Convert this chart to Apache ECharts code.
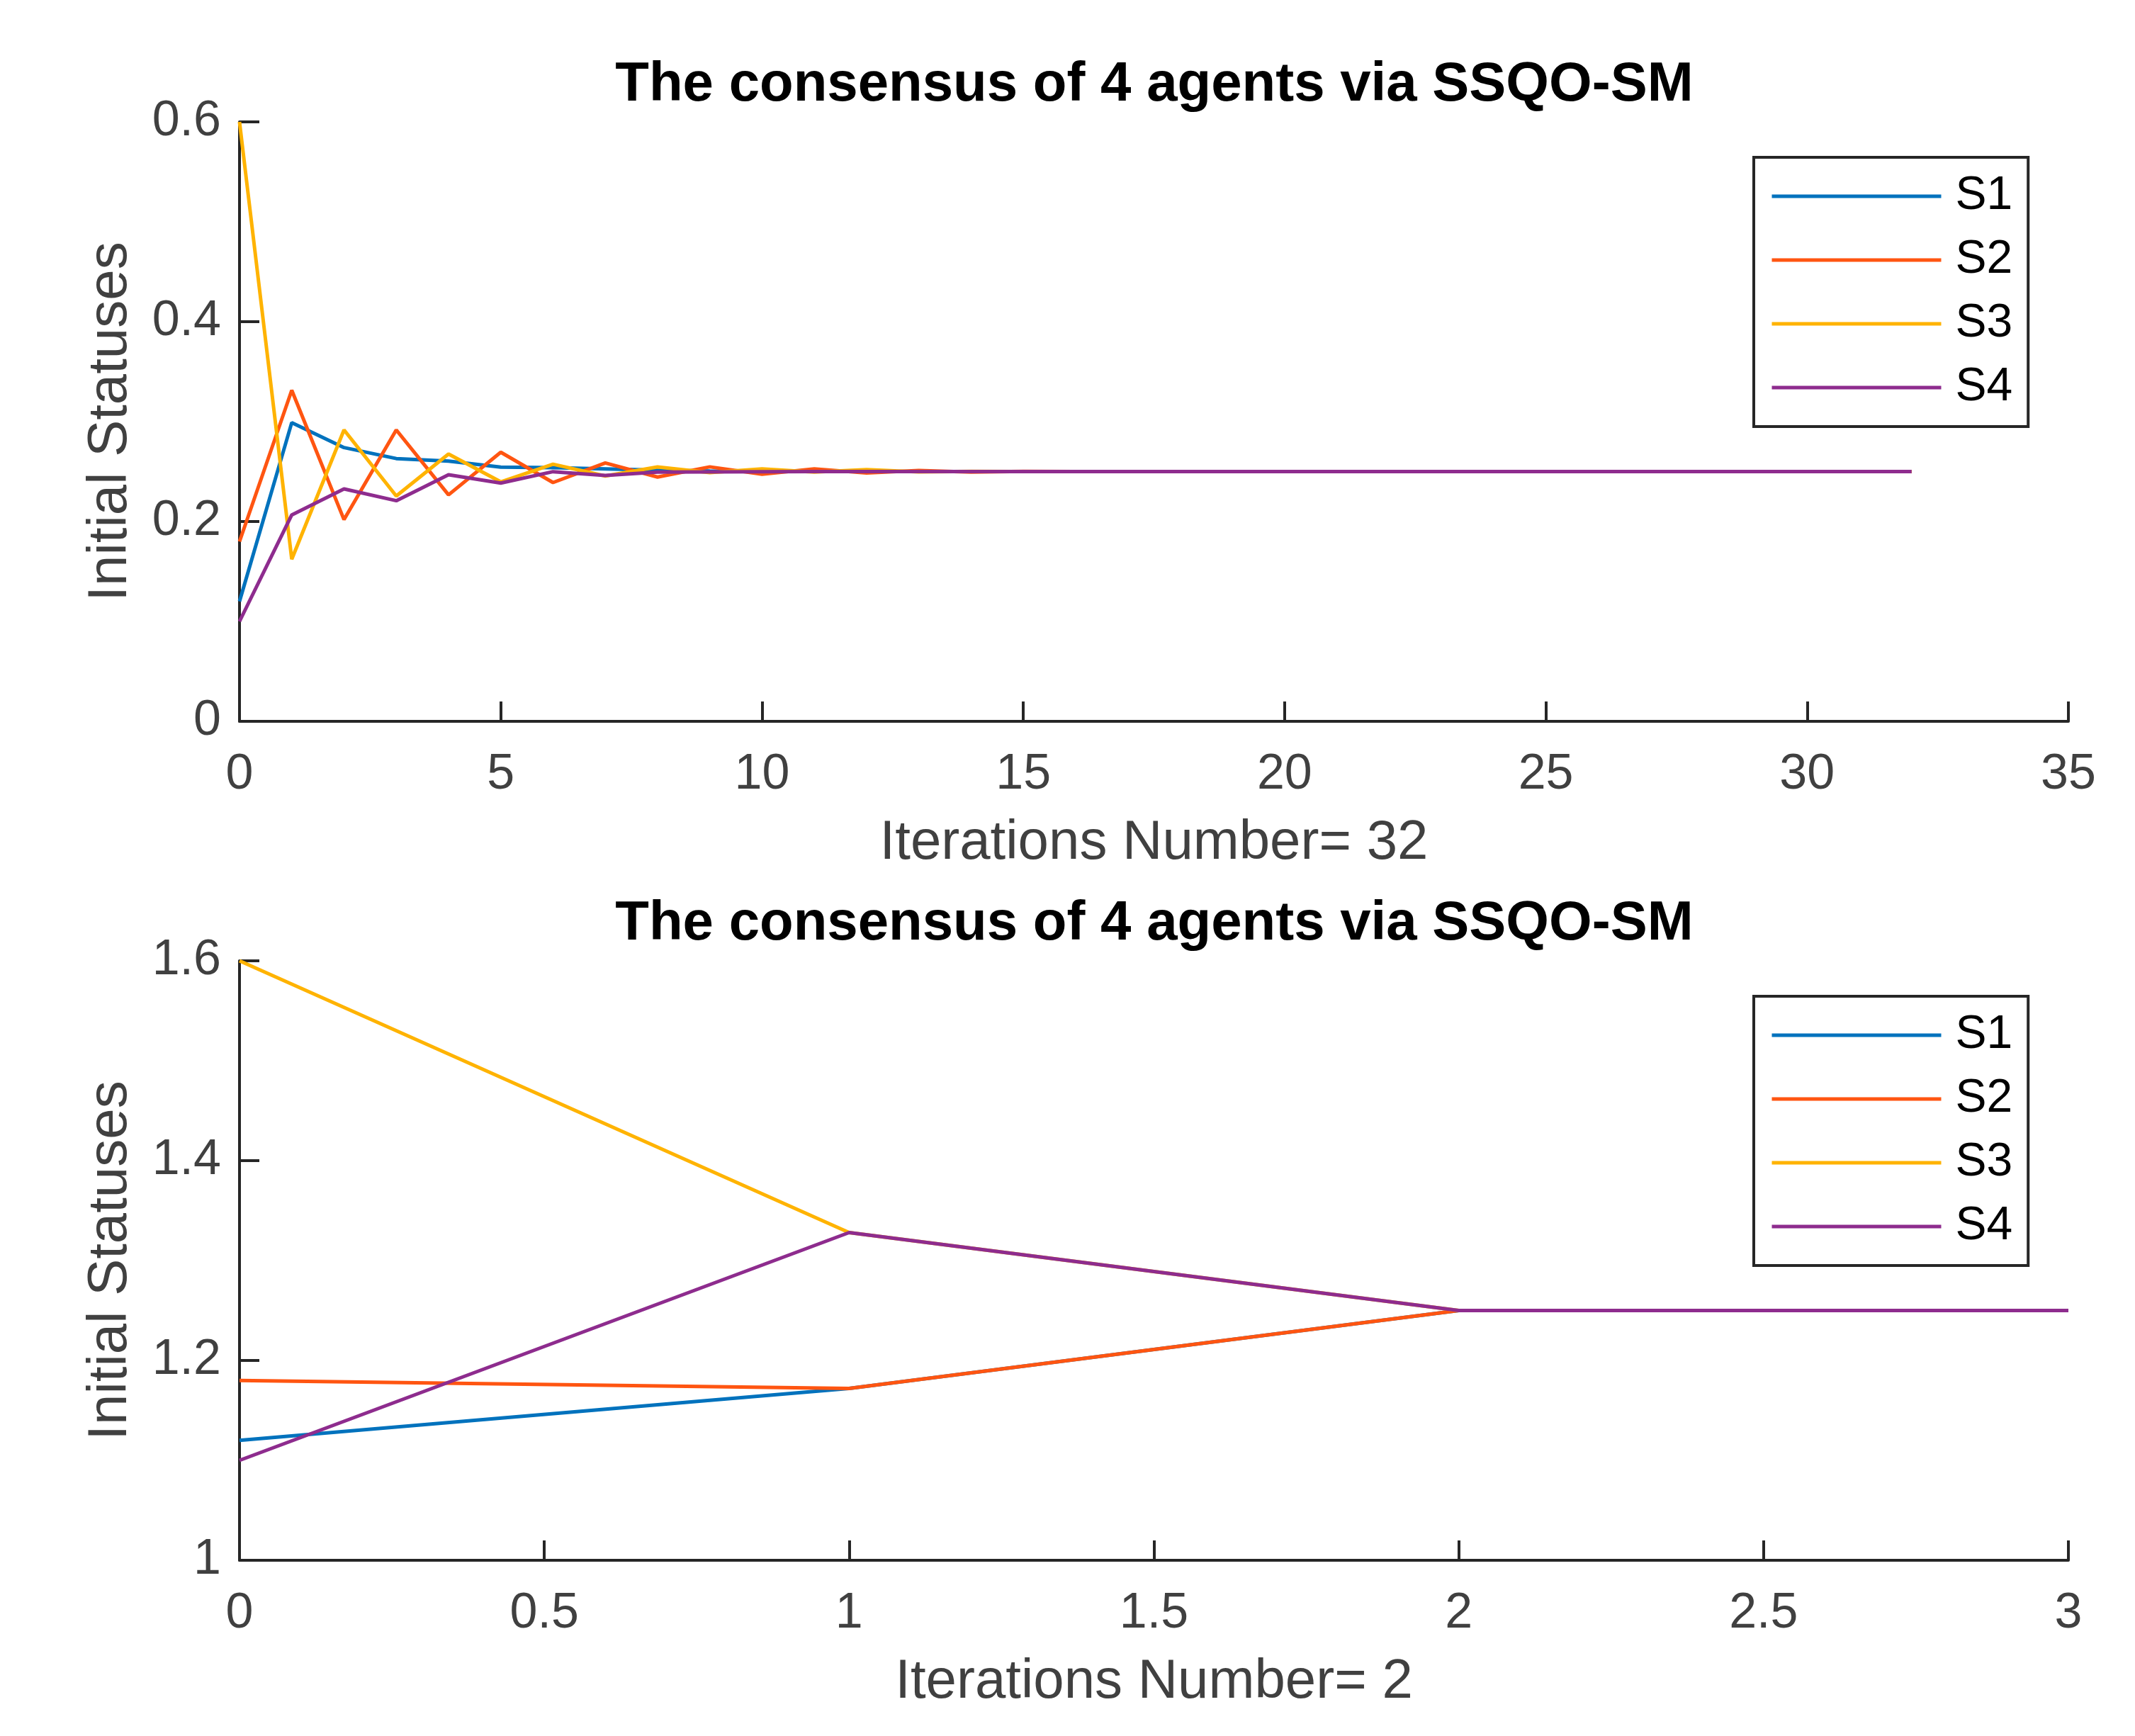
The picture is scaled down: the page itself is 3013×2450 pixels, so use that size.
<!DOCTYPE html>
<html><head><meta charset="utf-8">
<script src="https://cdn.jsdelivr.net/npm/echarts@6/dist/echarts.min.js"></script>
<style>html,body{margin:0;padding:0;background:#fff}#c{width:3013px;height:2450px}</style>
</head><body><div id="c"></div>
<script>
const seriesNames = ['S1', 'S2', 'S3', 'S4'];
const seriesColors = ['#0072BD', '#FF5511', '#FFB300', '#8E2C8E'];
const titleText = 'The consensus of 4 agents via SSQO-SM';
const yName = 'Initial Statuses';
const xNameTop = 'Iterations Number= 32';
const xNameBottom = 'Iterations Number= 2';

// Top panel: iterations 0..32
const iterTop = [0,1,2,3,4,5,6,7,8,9,10,11,12,13,14,15,16,17,18,19,20,21,22,23,24,25,26,27,28,29,30,31,32];
const s1Top = [0.12,0.299,0.274,0.263,0.2605,0.2544,0.2539,0.2527,0.2515,0.2506,0.2502,0.2501,0.25,0.25,0.25,0.25,0.25,0.25,0.25,0.25,0.25,0.25,0.25,0.25,0.25,0.25,0.25,0.25,0.25,0.25,0.25,0.25,0.25];
const s2Top = [0.18,0.3314,0.2019,0.2917,0.2267,0.2693,0.239,0.2586,0.2445,0.2547,0.2473,0.2527,0.2485,0.251,0.2495,0.2502,0.25,0.25,0.25,0.25,0.25,0.25,0.25,0.25,0.25,0.25,0.25,0.25,0.25,0.25,0.25,0.25,0.25];
const s3Top = [0.6,0.1622,0.2917,0.2255,0.2676,0.2397,0.2574,0.2456,0.2546,0.249,0.2527,0.2495,0.252,0.2497,0.2502,0.25,0.25,0.25,0.25,0.25,0.25,0.25,0.25,0.25,0.25,0.25,0.25,0.25,0.25,0.25,0.25,0.25,0.25];
const s4Top = [0.1,0.2066,0.2326,0.2208,0.2468,0.2385,0.2499,0.2461,0.2495,0.2497,0.2499,0.25,0.25,0.25,0.25,0.25,0.25,0.25,0.25,0.25,0.25,0.25,0.25,0.25,0.25,0.25,0.25,0.25,0.25,0.25,0.25,0.25,0.25];

// Bottom panel: iterations 0..3
const iterBottom = [0, 1, 2, 3];
const s1Bottom = [1.12, 1.172, 1.25, 1.25];
const s2Bottom = [1.18, 1.172, 1.25, 1.25];
const s3Bottom = [1.6, 1.328, 1.25, 1.25];
const s4Bottom = [1.1, 1.328, 1.25, 1.25];

const topSets = [s1Top, s2Top, s3Top, s4Top];
const bottomSets = [s1Bottom, s2Bottom, s3Bottom, s4Bottom];

const FONT = 'Liberation Sans';
const AXIS_COLOR = '#262626';
const TEXT_COLOR = '#404040';
const LINE_W = 5;

function makeX(idx, min, max, interval, name) {
  return {
    type: 'value', gridIndex: idx, min: min, max: max, interval: interval,
    name: name, nameLocation: 'middle', nameGap: 172,
    nameTextStyle: { fontSize: 78, color: TEXT_COLOR, fontFamily: FONT, verticalAlign: 'middle' },
    axisLine: { show: true, onZero: false, lineStyle: { color: AXIS_COLOR, width: 4 } },
    axisTick: { show: true, inside: true, length: 28, lineStyle: { color: AXIS_COLOR, width: 4 } },
    axisLabel: { fontSize: 70, color: TEXT_COLOR, fontFamily: FONT, margin: 76, verticalAlign: 'middle', showMinLabel: true, showMaxLabel: true },
    splitLine: { show: false }
  };
}
function makeY(idx, min, max, interval) {
  return {
    type: 'value', gridIndex: idx, min: min, max: max, interval: interval,
    name: yName, nameLocation: 'middle', nameGap: 182,
    nameTextStyle: { fontSize: 78, color: TEXT_COLOR, fontFamily: FONT, verticalAlign: 'middle' },
    axisLine: { show: true, onZero: false, lineStyle: { color: AXIS_COLOR, width: 4 } },
    axisTick: { show: true, inside: true, length: 28, lineStyle: { color: AXIS_COLOR, width: 4 } },
    axisLabel: { fontSize: 70, color: TEXT_COLOR, fontFamily: FONT, margin: 26, verticalAlign: 'middle', showMinLabel: true, showMaxLabel: true },
    splitLine: { show: false }
  };
}
function makeLegend(top) {
  return {
    show: true, orient: 'vertical', left: 2475, top: top,
    padding: [22, 22, 22, 23],
    itemWidth: 239, itemHeight: 20, itemGap: 24,
    borderColor: AXIS_COLOR, borderWidth: 4, backgroundColor: '#ffffff',
    itemStyle: { opacity: 0 },
    lineStyle: { width: LINE_W },
    textStyle: { fontSize: 66, lineHeight: 64, color: '#000000', fontFamily: FONT, padding: [0, 0, 0, 15] },
    data: seriesNames
  };
}

const series = [];
seriesNames.forEach(function (n, i) {
  series.push({
    name: n, type: 'line', xAxisIndex: 0, yAxisIndex: 0, symbol: 'none',
    lineStyle: { width: LINE_W, color: seriesColors[i] }, itemStyle: { color: seriesColors[i] },
    data: iterTop.map(function (x, k) { return [x, topSets[i][k]]; }),
    z: 2 + i
  });
});
seriesNames.forEach(function (n, i) {
  series.push({
    name: n, type: 'line', xAxisIndex: 1, yAxisIndex: 1, symbol: 'none',
    lineStyle: { width: LINE_W, color: seriesColors[i] }, itemStyle: { color: seriesColors[i] },
    data: iterBottom.map(function (x, k) { return [x, bottomSets[i][k]]; }),
    z: 2 + i
  });
});

const chart = echarts.init(document.getElementById('c'));
chart.setOption({
  animation: false,
  backgroundColor: '#ffffff',
  textStyle: { fontFamily: FONT },
  grid: [
    { left: 338, top: 172, width: 2581, height: 846 },
    { left: 338, top: 1356, width: 2581, height: 846 }
  ],
  xAxis: [makeX(0, 0, 35, 5, xNameTop), makeX(1, 0, 3, 0.5, xNameBottom)],
  yAxis: [makeY(0, 0, 0.6, 0.2), makeY(1, 1, 1.6, 0.2)],
  legend: [makeLegend(222), makeLegend(1406)],
  graphic: [
    { type: 'text', x: 1629, y: 120, style: { text: titleText, fill: '#000', font: 'bold 78px "Liberation Sans"', textAlign: 'center', textVerticalAlign: 'middle' } },
    { type: 'text', x: 1629, y: 1304, style: { text: titleText, fill: '#000', font: 'bold 78px "Liberation Sans"', textAlign: 'center', textVerticalAlign: 'middle' } }
  ],
  series: series
});
</script>
</body></html>
